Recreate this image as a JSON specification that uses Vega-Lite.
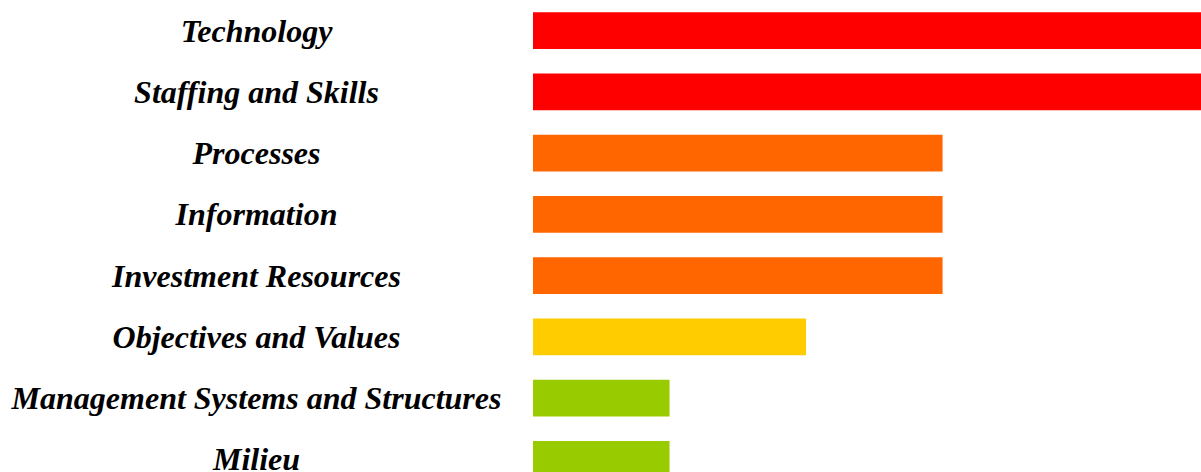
{
  "$schema": "https://vega.github.io/schema/vega-lite/v6.json",
  "autosize": "none",
  "padding": {"left": 533, "top": 0, "right": 0, "bottom": 0},
  "width": 684,
  "height": 490,
  "background": "white",
  "config": {"view": {"stroke": null}},
  "data": {
    "values": [
      {"factor": "Technology", "score": 5, "level": "high"},
      {"factor": "Staffing and Skills", "score": 5, "level": "high"},
      {"factor": "Processes", "score": 3, "level": "medium"},
      {"factor": "Information", "score": 3, "level": "medium"},
      {"factor": "Investment Resources", "score": 3, "level": "medium"},
      {"factor": "Objectives and Values", "score": 2, "level": "low"},
      {"factor": "Management Systems and Structures", "score": 1, "level": "minimal"},
      {"factor": "Milieu", "score": 1, "level": "minimal"}
    ]
  },
  "mark": {"type": "bar"},
  "encoding": {
    "y": {
      "field": "factor",
      "type": "nominal",
      "sort": null,
      "scale": {"paddingInner": 0.4, "paddingOuter": 0.2},
      "axis": {
        "title": null,
        "domain": false,
        "ticks": false,
        "labelAlign": "center",
        "labelPadding": 277,
        "labelFont": "Times New Roman, Liberation Serif, serif",
        "labelFontSize": 32,
        "labelFontWeight": "bold",
        "labelFontStyle": "italic",
        "labelColor": "black",
        "labelLimit": 0,
        "labelBaseline": "middle",
        "labelOffset": 1
      }
    },
    "x": {
      "field": "score",
      "type": "quantitative",
      "scale": {"domain": [0, 5.01], "nice": false},
      "axis": null
    },
    "color": {
      "field": "level",
      "type": "nominal",
      "scale": {
        "domain": ["high", "medium", "low", "minimal"],
        "range": ["#FF0000", "#FF6600", "#FFCC00", "#99CC00"]
      },
      "legend": null
    }
  }
}
